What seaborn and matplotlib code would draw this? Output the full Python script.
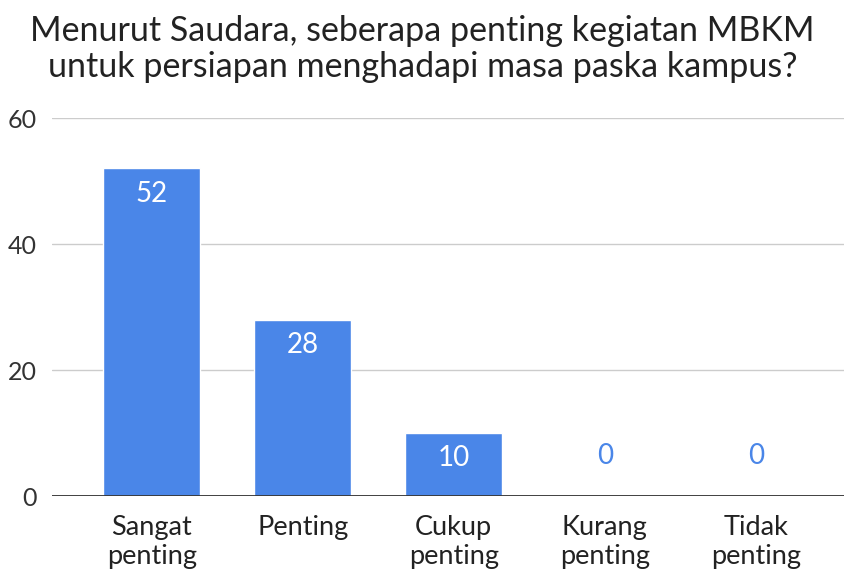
import seaborn as sns
import matplotlib.pyplot as plt
import pandas as pd

categories = ["Sangat\npenting", "Penting", "Cukup\npenting", "Kurang\npenting", "Tidak\npenting"]
counts = [52, 28, 10, 0, 0]
y_ticks = [0, 20, 40, 60]
title = "Menurut Saudara, seberapa penting kegiatan MBKM\nuntuk persiapan menghadapi masa paska kampus?"

BLUE = "#4a86e8"


def main():
    sns.set_style("white")
    plt.rcParams['font.family'] = ['Lato', 'DejaVu Sans']

    df = pd.DataFrame({"kategori": categories, "jumlah": counts})

    fig = plt.figure(figsize=(8.45, 5.71), dpi=100)
    ax = fig.add_axes([0.0615, 0.1313, 0.9385, 0.662])
    sns.barplot(data=df, x="kategori", y="jumlah", color=BLUE,
                saturation=1, width=0.64, ax=ax, zorder=3)

    ax.set_ylim(0, 60)
    ax.set_xlim(-0.66, 4.59)
    ax.set_yticks(y_ticks)
    ax.grid(axis="y", color="#cccccc", linewidth=1, zorder=0)
    ax.axhline(0, color="#333333", linewidth=1.3, zorder=4)
    for s in ax.spines.values():
        s.set_visible(False)
    ax.tick_params(axis="y", length=0, pad=11, labelsize=18, labelcolor="#333333")
    ax.tick_params(axis="x", length=0, pad=14, labelsize=19.5, labelcolor="#222222")
    for lbl in ax.get_xticklabels():
        lbl.set_linespacing(1.2)
    ax.set_xlabel("")
    ax.set_ylabel("")

    # value labels: white inside bar, blue above baseline when bar is empty
    for i, v in enumerate(counts):
        if v > 0:
            ax.text(i, v - 4.0, str(v), ha="center", va="center",
                    color="white", fontsize=20, zorder=5)
        else:
            ax.text(i, 6.3, str(v), ha="center", va="center",
                    color=BLUE, fontsize=20, zorder=5)

    fig.text(0.5, 0.914, title, ha="center", va="center",
             fontsize=24.5, color="#222222", linespacing=1.15)

    fig.savefig("out.png", dpi=100)


if __name__ == "__main__":
    main()
